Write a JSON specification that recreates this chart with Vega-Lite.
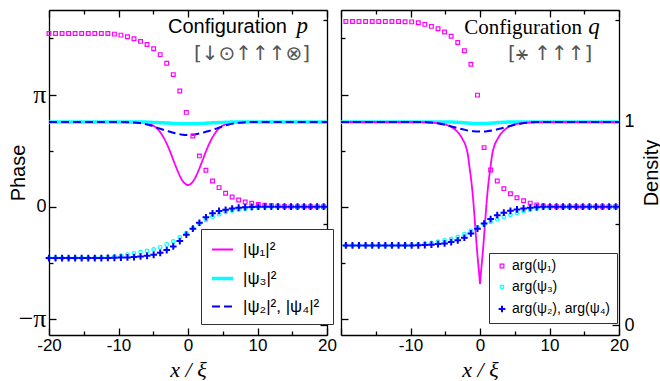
{
  "$schema": "https://vega.github.io/schema/vega-lite/v6.json",
  "padding": {"left": 8, "top": 9, "right": 0, "bottom": 0},
  "bounds": "flush",
  "spacing": 14,
  "config": {
    "view": {"stroke": null},
    "axis": {
      "grid": false,
      "domainColor": "black",
      "domainWidth": 1.3,
      "tickColor": "black",
      "tickWidth": 1.3,
      "labelFont": "Liberation Sans",
      "labelFontSize": 18,
      "labelColor": "black",
      "labelOverlap": false,
      "labelFlush": false,
      "labelBound": false,
      "titleColor": "black",
      "titleFontWeight": "normal"
    },
    "legend": {"symbolOpacity": 1}
  },
  "datasets": {
    "densP": [
      {"x": -20, "d": 1, "curve": "|ψ₁|²"}, {"x": -10, "d": 1, "curve": "|ψ₁|²"}, {"x": -8, "d": 0.999, "curve": "|ψ₁|²"},
      {"x": -7, "d": 0.998, "curve": "|ψ₁|²"}, {"x": -6, "d": 0.995, "curve": "|ψ₁|²"}, {"x": -5.5, "d": 0.99, "curve": "|ψ₁|²"},
      {"x": -5, "d": 0.982, "curve": "|ψ₁|²"}, {"x": -4.5, "d": 0.969, "curve": "|ψ₁|²"}, {"x": -4, "d": 0.95, "curve": "|ψ₁|²"},
      {"x": -3.5, "d": 0.923, "curve": "|ψ₁|²"}, {"x": -3, "d": 0.889, "curve": "|ψ₁|²"}, {"x": -2.5, "d": 0.848, "curve": "|ψ₁|²"},
      {"x": -2, "d": 0.803, "curve": "|ψ₁|²"}, {"x": -1.5, "d": 0.76, "curve": "|ψ₁|²"}, {"x": -1, "d": 0.723, "curve": "|ψ₁|²"},
      {"x": -0.5, "d": 0.699, "curve": "|ψ₁|²"}, {"x": 0, "d": 0.69, "curve": "|ψ₁|²"}, {"x": 0.5, "d": 0.699, "curve": "|ψ₁|²"},
      {"x": 1, "d": 0.723, "curve": "|ψ₁|²"}, {"x": 1.5, "d": 0.76, "curve": "|ψ₁|²"}, {"x": 2, "d": 0.803, "curve": "|ψ₁|²"},
      {"x": 2.5, "d": 0.848, "curve": "|ψ₁|²"}, {"x": 3, "d": 0.889, "curve": "|ψ₁|²"}, {"x": 3.5, "d": 0.923, "curve": "|ψ₁|²"},
      {"x": 4, "d": 0.95, "curve": "|ψ₁|²"}, {"x": 4.5, "d": 0.969, "curve": "|ψ₁|²"}, {"x": 5, "d": 0.982, "curve": "|ψ₁|²"},
      {"x": 5.5, "d": 0.99, "curve": "|ψ₁|²"}, {"x": 6, "d": 0.995, "curve": "|ψ₁|²"}, {"x": 7, "d": 0.998, "curve": "|ψ₁|²"},
      {"x": 8, "d": 0.999, "curve": "|ψ₁|²"}, {"x": 10, "d": 1, "curve": "|ψ₁|²"}, {"x": 20, "d": 1, "curve": "|ψ₁|²"},
      {"x": -20, "d": 1, "curve": "|ψ₃|²"}, {"x": -7, "d": 1, "curve": "|ψ₃|²"}, {"x": -5, "d": 0.998, "curve": "|ψ₃|²"},
      {"x": -3, "d": 0.995, "curve": "|ψ₃|²"}, {"x": -1.5, "d": 0.992, "curve": "|ψ₃|²"}, {"x": 0, "d": 0.991, "curve": "|ψ₃|²"},
      {"x": 1.5, "d": 0.992, "curve": "|ψ₃|²"}, {"x": 3, "d": 0.995, "curve": "|ψ₃|²"}, {"x": 5, "d": 0.998, "curve": "|ψ₃|²"},
      {"x": 7, "d": 1, "curve": "|ψ₃|²"}, {"x": 20, "d": 1, "curve": "|ψ₃|²"},
      {"x": -20, "d": 1, "curve": "|ψ₂|²,  |ψ₄|²"}, {"x": -10, "d": 1, "curve": "|ψ₂|²,  |ψ₄|²"}, {"x": -8, "d": 0.998, "curve": "|ψ₂|²,  |ψ₄|²"},
      {"x": -7, "d": 0.995, "curve": "|ψ₂|²,  |ψ₄|²"}, {"x": -6, "d": 0.989, "curve": "|ψ₂|²,  |ψ₄|²"}, {"x": -5, "d": 0.979, "curve": "|ψ₂|²,  |ψ₄|²"},
      {"x": -4, "d": 0.967, "curve": "|ψ₂|²,  |ψ₄|²"}, {"x": -3, "d": 0.956, "curve": "|ψ₂|²,  |ψ₄|²"}, {"x": -2, "d": 0.946, "curve": "|ψ₂|²,  |ψ₄|²"},
      {"x": -1, "d": 0.939, "curve": "|ψ₂|²,  |ψ₄|²"}, {"x": 0, "d": 0.936, "curve": "|ψ₂|²,  |ψ₄|²"}, {"x": 1, "d": 0.939, "curve": "|ψ₂|²,  |ψ₄|²"},
      {"x": 2, "d": 0.946, "curve": "|ψ₂|²,  |ψ₄|²"}, {"x": 3, "d": 0.956, "curve": "|ψ₂|²,  |ψ₄|²"}, {"x": 4, "d": 0.967, "curve": "|ψ₂|²,  |ψ₄|²"},
      {"x": 5, "d": 0.979, "curve": "|ψ₂|²,  |ψ₄|²"}, {"x": 6, "d": 0.989, "curve": "|ψ₂|²,  |ψ₄|²"}, {"x": 7, "d": 0.995, "curve": "|ψ₂|²,  |ψ₄|²"},
      {"x": 8, "d": 0.998, "curve": "|ψ₂|²,  |ψ₄|²"}, {"x": 10, "d": 1, "curve": "|ψ₂|²,  |ψ₄|²"}, {"x": 20, "d": 1, "curve": "|ψ₂|²,  |ψ₄|²"}
    ],
    "densQ": [
      {"x": -20, "d": 1, "curve": "|ψ₃|²"}, {"x": -5, "d": 1, "curve": "|ψ₃|²"}, {"x": -3, "d": 0.998, "curve": "|ψ₃|²"},
      {"x": -1.5, "d": 0.994, "curve": "|ψ₃|²"}, {"x": 0, "d": 0.992, "curve": "|ψ₃|²"}, {"x": 1.5, "d": 0.994, "curve": "|ψ₃|²"},
      {"x": 3, "d": 0.998, "curve": "|ψ₃|²"}, {"x": 5, "d": 1, "curve": "|ψ₃|²"}, {"x": 20, "d": 1, "curve": "|ψ₃|²"},
      {"x": -20, "d": 1, "curve": "|ψ₁|²"}, {"x": -10, "d": 1, "curve": "|ψ₁|²"}, {"x": -8, "d": 0.999, "curve": "|ψ₁|²"},
      {"x": -7, "d": 0.997, "curve": "|ψ₁|²"}, {"x": -6, "d": 0.994, "curve": "|ψ₁|²"}, {"x": -5, "d": 0.988, "curve": "|ψ₁|²"},
      {"x": -4.5, "d": 0.982, "curve": "|ψ₁|²"}, {"x": -4, "d": 0.973, "curve": "|ψ₁|²"}, {"x": -3.5, "d": 0.96, "curve": "|ψ₁|²"},
      {"x": -3, "d": 0.942, "curve": "|ψ₁|²"}, {"x": -2.5, "d": 0.915, "curve": "|ψ₁|²"}, {"x": -2, "d": 0.876, "curve": "|ψ₁|²"},
      {"x": -1.75, "d": 0.84, "curve": "|ψ₁|²"}, {"x": -1.5, "d": 0.775, "curve": "|ψ₁|²"}, {"x": -1.25, "d": 0.71, "curve": "|ψ₁|²"},
      {"x": -1, "d": 0.625, "curve": "|ψ₁|²"}, {"x": -0.75, "d": 0.515, "curve": "|ψ₁|²"}, {"x": -0.5, "d": 0.4, "curve": "|ψ₁|²"},
      {"x": -0.25, "d": 0.3, "curve": "|ψ₁|²"}, {"x": -0.1, "d": 0.245, "curve": "|ψ₁|²"}, {"x": 0, "d": 0.205, "curve": "|ψ₁|²"},
      {"x": 0.1, "d": 0.245, "curve": "|ψ₁|²"}, {"x": 0.25, "d": 0.3, "curve": "|ψ₁|²"}, {"x": 0.5, "d": 0.4, "curve": "|ψ₁|²"},
      {"x": 0.75, "d": 0.515, "curve": "|ψ₁|²"}, {"x": 1, "d": 0.625, "curve": "|ψ₁|²"}, {"x": 1.25, "d": 0.71, "curve": "|ψ₁|²"},
      {"x": 1.5, "d": 0.775, "curve": "|ψ₁|²"}, {"x": 1.75, "d": 0.84, "curve": "|ψ₁|²"}, {"x": 2, "d": 0.876, "curve": "|ψ₁|²"},
      {"x": 2.5, "d": 0.915, "curve": "|ψ₁|²"}, {"x": 3, "d": 0.942, "curve": "|ψ₁|²"}, {"x": 3.5, "d": 0.96, "curve": "|ψ₁|²"},
      {"x": 4, "d": 0.973, "curve": "|ψ₁|²"}, {"x": 4.5, "d": 0.982, "curve": "|ψ₁|²"}, {"x": 5, "d": 0.988, "curve": "|ψ₁|²"},
      {"x": 6, "d": 0.994, "curve": "|ψ₁|²"}, {"x": 7, "d": 0.997, "curve": "|ψ₁|²"}, {"x": 8, "d": 0.999, "curve": "|ψ₁|²"},
      {"x": 10, "d": 1, "curve": "|ψ₁|²"}, {"x": 20, "d": 1, "curve": "|ψ₁|²"},
      {"x": -20, "d": 1, "curve": "|ψ₂|²,  |ψ₄|²"}, {"x": -8, "d": 1, "curve": "|ψ₂|²,  |ψ₄|²"}, {"x": -7, "d": 0.997, "curve": "|ψ₂|²,  |ψ₄|²"},
      {"x": -6, "d": 0.993, "curve": "|ψ₂|²,  |ψ₄|²"}, {"x": -5, "d": 0.986, "curve": "|ψ₂|²,  |ψ₄|²"}, {"x": -4, "d": 0.977, "curve": "|ψ₂|²,  |ψ₄|²"},
      {"x": -3, "d": 0.968, "curve": "|ψ₂|²,  |ψ₄|²"}, {"x": -2, "d": 0.96, "curve": "|ψ₂|²,  |ψ₄|²"}, {"x": -1, "d": 0.955, "curve": "|ψ₂|²,  |ψ₄|²"},
      {"x": 0, "d": 0.953, "curve": "|ψ₂|²,  |ψ₄|²"}, {"x": 1, "d": 0.955, "curve": "|ψ₂|²,  |ψ₄|²"}, {"x": 2, "d": 0.96, "curve": "|ψ₂|²,  |ψ₄|²"},
      {"x": 3, "d": 0.968, "curve": "|ψ₂|²,  |ψ₄|²"}, {"x": 4, "d": 0.977, "curve": "|ψ₂|²,  |ψ₄|²"}, {"x": 5, "d": 0.986, "curve": "|ψ₂|²,  |ψ₄|²"},
      {"x": 6, "d": 0.993, "curve": "|ψ₂|²,  |ψ₄|²"}, {"x": 7, "d": 0.997, "curve": "|ψ₂|²,  |ψ₄|²"}, {"x": 8, "d": 1, "curve": "|ψ₂|²,  |ψ₄|²"},
      {"x": 20, "d": 1, "curve": "|ψ₂|²,  |ψ₄|²"}
    ],
    "phaseP": [
      {"x": -20, "phase": 1.545, "s": "arg(ψ₁)"}, {"x": -19.06, "phase": 1.545, "s": "arg(ψ₁)"}, {"x": -18.12, "phase": 1.545, "s": "arg(ψ₁)"},
      {"x": -17.18, "phase": 1.545, "s": "arg(ψ₁)"}, {"x": -16.24, "phase": 1.545, "s": "arg(ψ₁)"}, {"x": -15.3, "phase": 1.545, "s": "arg(ψ₁)"},
      {"x": -14.35, "phase": 1.545, "s": "arg(ψ₁)"}, {"x": -13.41, "phase": 1.545, "s": "arg(ψ₁)"}, {"x": -12.47, "phase": 1.545, "s": "arg(ψ₁)"},
      {"x": -11.53, "phase": 1.544, "s": "arg(ψ₁)"}, {"x": -10.59, "phase": 1.539, "s": "arg(ψ₁)"}, {"x": -9.65, "phase": 1.53, "s": "arg(ψ₁)"},
      {"x": -8.71, "phase": 1.515, "s": "arg(ψ₁)"}, {"x": -7.77, "phase": 1.497, "s": "arg(ψ₁)"}, {"x": -6.83, "phase": 1.474, "s": "arg(ψ₁)"},
      {"x": -5.89, "phase": 1.446, "s": "arg(ψ₁)"}, {"x": -4.94, "phase": 1.408, "s": "arg(ψ₁)"}, {"x": -4, "phase": 1.356, "s": "arg(ψ₁)"},
      {"x": -3.06, "phase": 1.28, "s": "arg(ψ₁)"}, {"x": -2.12, "phase": 1.178, "s": "arg(ψ₁)"}, {"x": -1.18, "phase": 1.031, "s": "arg(ψ₁)"},
      {"x": -0.24, "phase": 0.841, "s": "arg(ψ₁)"}, {"x": 0.7, "phase": 0.631, "s": "arg(ψ₁)"}, {"x": 1.64, "phase": 0.453, "s": "arg(ψ₁)"},
      {"x": 2.58, "phase": 0.325, "s": "arg(ψ₁)"}, {"x": 3.53, "phase": 0.229, "s": "arg(ψ₁)"}, {"x": 4.47, "phase": 0.17, "s": "arg(ψ₁)"},
      {"x": 5.41, "phase": 0.12, "s": "arg(ψ₁)"}, {"x": 6.35, "phase": 0.087, "s": "arg(ψ₁)"}, {"x": 7.29, "phase": 0.06, "s": "arg(ψ₁)"},
      {"x": 8.23, "phase": 0.042, "s": "arg(ψ₁)"}, {"x": 9.17, "phase": 0.03, "s": "arg(ψ₁)"}, {"x": 10.11, "phase": 0.021, "s": "arg(ψ₁)"},
      {"x": 11.05, "phase": 0.014, "s": "arg(ψ₁)"}, {"x": 11.99, "phase": 0.009, "s": "arg(ψ₁)"}, {"x": 12.94, "phase": 0.005, "s": "arg(ψ₁)"},
      {"x": 13.88, "phase": 0.003, "s": "arg(ψ₁)"}, {"x": 14.82, "phase": 0, "s": "arg(ψ₁)"}, {"x": 15.76, "phase": 0, "s": "arg(ψ₁)"},
      {"x": 16.7, "phase": 0, "s": "arg(ψ₁)"}, {"x": 17.64, "phase": 0, "s": "arg(ψ₁)"}, {"x": 18.58, "phase": 0, "s": "arg(ψ₁)"},
      {"x": 19.52, "phase": 0, "s": "arg(ψ₁)"},
      {"x": -20, "phase": -0.458, "s": "arg(ψ₃)"}, {"x": -19.06, "phase": -0.458, "s": "arg(ψ₃)"}, {"x": -18.12, "phase": -0.458, "s": "arg(ψ₃)"},
      {"x": -17.18, "phase": -0.458, "s": "arg(ψ₃)"}, {"x": -16.24, "phase": -0.458, "s": "arg(ψ₃)"}, {"x": -15.3, "phase": -0.458, "s": "arg(ψ₃)"},
      {"x": -14.35, "phase": -0.457, "s": "arg(ψ₃)"}, {"x": -13.41, "phase": -0.456, "s": "arg(ψ₃)"}, {"x": -12.47, "phase": -0.454, "s": "arg(ψ₃)"},
      {"x": -11.53, "phase": -0.45, "s": "arg(ψ₃)"}, {"x": -10.59, "phase": -0.445, "s": "arg(ψ₃)"}, {"x": -9.65, "phase": -0.436, "s": "arg(ψ₃)"},
      {"x": -8.71, "phase": -0.427, "s": "arg(ψ₃)"}, {"x": -7.77, "phase": -0.417, "s": "arg(ψ₃)"}, {"x": -6.83, "phase": -0.405, "s": "arg(ψ₃)"},
      {"x": -5.89, "phase": -0.395, "s": "arg(ψ₃)"}, {"x": -4.94, "phase": -0.381, "s": "arg(ψ₃)"}, {"x": -4, "phase": -0.362, "s": "arg(ψ₃)"},
      {"x": -3.06, "phase": -0.337, "s": "arg(ψ₃)"}, {"x": -2.12, "phase": -0.309, "s": "arg(ψ₃)"}, {"x": -1.18, "phase": -0.273, "s": "arg(ψ₃)"},
      {"x": -0.24, "phase": -0.236, "s": "arg(ψ₃)"}, {"x": 0.7, "phase": -0.192, "s": "arg(ψ₃)"}, {"x": 1.64, "phase": -0.155, "s": "arg(ψ₃)"},
      {"x": 2.58, "phase": -0.119, "s": "arg(ψ₃)"}, {"x": 3.53, "phase": -0.089, "s": "arg(ψ₃)"}, {"x": 4.47, "phase": -0.068, "s": "arg(ψ₃)"},
      {"x": 5.41, "phase": -0.048, "s": "arg(ψ₃)"}, {"x": 6.35, "phase": -0.034, "s": "arg(ψ₃)"}, {"x": 7.29, "phase": -0.025, "s": "arg(ψ₃)"},
      {"x": 8.23, "phase": -0.018, "s": "arg(ψ₃)"}, {"x": 9.17, "phase": -0.012, "s": "arg(ψ₃)"}, {"x": 10.11, "phase": -0.007, "s": "arg(ψ₃)"},
      {"x": 11.05, "phase": -0.003, "s": "arg(ψ₃)"}, {"x": 11.99, "phase": 0, "s": "arg(ψ₃)"}, {"x": 12.94, "phase": 0, "s": "arg(ψ₃)"},
      {"x": 13.88, "phase": 0, "s": "arg(ψ₃)"}, {"x": 14.82, "phase": 0, "s": "arg(ψ₃)"}, {"x": 15.76, "phase": 0, "s": "arg(ψ₃)"},
      {"x": 16.7, "phase": 0, "s": "arg(ψ₃)"}, {"x": 17.64, "phase": 0, "s": "arg(ψ₃)"}, {"x": 18.58, "phase": 0, "s": "arg(ψ₃)"},
      {"x": 19.52, "phase": 0, "s": "arg(ψ₃)"},
      {"x": -20, "phase": -0.458, "s": "arg(ψ₂), arg(ψ₄)"}, {"x": -19.06, "phase": -0.458, "s": "arg(ψ₂), arg(ψ₄)"}, {"x": -18.12, "phase": -0.458, "s": "arg(ψ₂), arg(ψ₄)"},
      {"x": -17.18, "phase": -0.458, "s": "arg(ψ₂), arg(ψ₄)"}, {"x": -16.24, "phase": -0.458, "s": "arg(ψ₂), arg(ψ₄)"}, {"x": -15.3, "phase": -0.458, "s": "arg(ψ₂), arg(ψ₄)"},
      {"x": -14.35, "phase": -0.458, "s": "arg(ψ₂), arg(ψ₄)"}, {"x": -13.41, "phase": -0.458, "s": "arg(ψ₂), arg(ψ₄)"}, {"x": -12.47, "phase": -0.458, "s": "arg(ψ₂), arg(ψ₄)"},
      {"x": -11.53, "phase": -0.457, "s": "arg(ψ₂), arg(ψ₄)"}, {"x": -10.59, "phase": -0.456, "s": "arg(ψ₂), arg(ψ₄)"}, {"x": -9.65, "phase": -0.454, "s": "arg(ψ₂), arg(ψ₄)"},
      {"x": -8.71, "phase": -0.452, "s": "arg(ψ₂), arg(ψ₄)"}, {"x": -7.77, "phase": -0.449, "s": "arg(ψ₂), arg(ψ₄)"}, {"x": -6.83, "phase": -0.444, "s": "arg(ψ₂), arg(ψ₄)"},
      {"x": -5.89, "phase": -0.438, "s": "arg(ψ₂), arg(ψ₄)"}, {"x": -4.94, "phase": -0.429, "s": "arg(ψ₂), arg(ψ₄)"}, {"x": -4, "phase": -0.411, "s": "arg(ψ₂), arg(ψ₄)"},
      {"x": -3.06, "phase": -0.387, "s": "arg(ψ₂), arg(ψ₄)"}, {"x": -2.12, "phase": -0.354, "s": "arg(ψ₂), arg(ψ₄)"}, {"x": -1.18, "phase": -0.306, "s": "arg(ψ₂), arg(ψ₄)"},
      {"x": -0.24, "phase": -0.25, "s": "arg(ψ₂), arg(ψ₄)"}, {"x": 0.7, "phase": -0.196, "s": "arg(ψ₂), arg(ψ₄)"}, {"x": 1.64, "phase": -0.143, "s": "arg(ψ₂), arg(ψ₄)"},
      {"x": 2.58, "phase": -0.094, "s": "arg(ψ₂), arg(ψ₄)"}, {"x": 3.53, "phase": -0.059, "s": "arg(ψ₂), arg(ψ₄)"}, {"x": 4.47, "phase": -0.038, "s": "arg(ψ₂), arg(ψ₄)"},
      {"x": 5.41, "phase": -0.027, "s": "arg(ψ₂), arg(ψ₄)"}, {"x": 6.35, "phase": -0.016, "s": "arg(ψ₂), arg(ψ₄)"}, {"x": 7.29, "phase": -0.009, "s": "arg(ψ₂), arg(ψ₄)"},
      {"x": 8.23, "phase": -0.005, "s": "arg(ψ₂), arg(ψ₄)"}, {"x": 9.17, "phase": -0.002, "s": "arg(ψ₂), arg(ψ₄)"}, {"x": 10.11, "phase": 0, "s": "arg(ψ₂), arg(ψ₄)"},
      {"x": 11.05, "phase": 0, "s": "arg(ψ₂), arg(ψ₄)"}, {"x": 11.99, "phase": 0, "s": "arg(ψ₂), arg(ψ₄)"}, {"x": 12.94, "phase": 0, "s": "arg(ψ₂), arg(ψ₄)"},
      {"x": 13.88, "phase": 0, "s": "arg(ψ₂), arg(ψ₄)"}, {"x": 14.82, "phase": 0, "s": "arg(ψ₂), arg(ψ₄)"}, {"x": 15.76, "phase": 0, "s": "arg(ψ₂), arg(ψ₄)"},
      {"x": 16.7, "phase": 0, "s": "arg(ψ₂), arg(ψ₄)"}, {"x": 17.64, "phase": 0, "s": "arg(ψ₂), arg(ψ₄)"}, {"x": 18.58, "phase": 0, "s": "arg(ψ₂), arg(ψ₄)"},
      {"x": 19.52, "phase": 0, "s": "arg(ψ₂), arg(ψ₄)"}
    ],
    "phaseQ": [
      {"x": -19.3, "phase": 1.652, "s": "arg(ψ₁)"}, {"x": -18.35, "phase": 1.652, "s": "arg(ψ₁)"}, {"x": -17.41, "phase": 1.652, "s": "arg(ψ₁)"},
      {"x": -16.46, "phase": 1.652, "s": "arg(ψ₁)"}, {"x": -15.51, "phase": 1.652, "s": "arg(ψ₁)"}, {"x": -14.57, "phase": 1.652, "s": "arg(ψ₁)"},
      {"x": -13.62, "phase": 1.652, "s": "arg(ψ₁)"}, {"x": -12.67, "phase": 1.652, "s": "arg(ψ₁)"}, {"x": -11.72, "phase": 1.651, "s": "arg(ψ₁)"},
      {"x": -10.78, "phase": 1.65, "s": "arg(ψ₁)"}, {"x": -9.83, "phase": 1.648, "s": "arg(ψ₁)"}, {"x": -8.88, "phase": 1.64, "s": "arg(ψ₁)"},
      {"x": -7.94, "phase": 1.626, "s": "arg(ψ₁)"}, {"x": -6.99, "phase": 1.608, "s": "arg(ψ₁)"}, {"x": -6.04, "phase": 1.586, "s": "arg(ψ₁)"},
      {"x": -5.1, "phase": 1.558, "s": "arg(ψ₁)"}, {"x": -4.15, "phase": 1.52, "s": "arg(ψ₁)"}, {"x": -3.2, "phase": 1.464, "s": "arg(ψ₁)"},
      {"x": -2.25, "phase": 1.39, "s": "arg(ψ₁)"}, {"x": -1.31, "phase": 1.271, "s": "arg(ψ₁)"}, {"x": -0.36, "phase": 0.995, "s": "arg(ψ₁)"},
      {"x": 0.59, "phase": 0.527, "s": "arg(ψ₁)"}, {"x": 1.53, "phase": 0.328, "s": "arg(ψ₁)"}, {"x": 2.48, "phase": 0.229, "s": "arg(ψ₁)"},
      {"x": 3.43, "phase": 0.161, "s": "arg(ψ₁)"}, {"x": 4.38, "phase": 0.116, "s": "arg(ψ₁)"}, {"x": 5.32, "phase": 0.08, "s": "arg(ψ₁)"},
      {"x": 6.27, "phase": 0.053, "s": "arg(ψ₁)"}, {"x": 7.22, "phase": 0.032, "s": "arg(ψ₁)"}, {"x": 8.16, "phase": 0.015, "s": "arg(ψ₁)"},
      {"x": 9.11, "phase": 0.006, "s": "arg(ψ₁)"}, {"x": 10.06, "phase": 0, "s": "arg(ψ₁)"}, {"x": 11, "phase": 0, "s": "arg(ψ₁)"},
      {"x": 11.95, "phase": 0, "s": "arg(ψ₁)"}, {"x": 12.9, "phase": 0, "s": "arg(ψ₁)"}, {"x": 13.85, "phase": 0, "s": "arg(ψ₁)"},
      {"x": 14.79, "phase": 0, "s": "arg(ψ₁)"}, {"x": 15.74, "phase": 0, "s": "arg(ψ₁)"}, {"x": 16.69, "phase": 0, "s": "arg(ψ₁)"},
      {"x": 17.63, "phase": 0, "s": "arg(ψ₁)"}, {"x": 18.58, "phase": 0, "s": "arg(ψ₁)"}, {"x": 19.53, "phase": 0, "s": "arg(ψ₁)"},
      {"x": -19.3, "phase": -0.345, "s": "arg(ψ₃)"}, {"x": -18.35, "phase": -0.345, "s": "arg(ψ₃)"}, {"x": -17.41, "phase": -0.345, "s": "arg(ψ₃)"},
      {"x": -16.46, "phase": -0.345, "s": "arg(ψ₃)"}, {"x": -15.51, "phase": -0.345, "s": "arg(ψ₃)"}, {"x": -14.57, "phase": -0.345, "s": "arg(ψ₃)"},
      {"x": -13.62, "phase": -0.345, "s": "arg(ψ₃)"}, {"x": -12.67, "phase": -0.345, "s": "arg(ψ₃)"}, {"x": -11.72, "phase": -0.344, "s": "arg(ψ₃)"},
      {"x": -10.78, "phase": -0.343, "s": "arg(ψ₃)"}, {"x": -9.83, "phase": -0.341, "s": "arg(ψ₃)"}, {"x": -8.88, "phase": -0.338, "s": "arg(ψ₃)"},
      {"x": -7.94, "phase": -0.33, "s": "arg(ψ₃)"}, {"x": -6.99, "phase": -0.322, "s": "arg(ψ₃)"}, {"x": -6.04, "phase": -0.312, "s": "arg(ψ₃)"},
      {"x": -5.1, "phase": -0.3, "s": "arg(ψ₃)"}, {"x": -4.15, "phase": -0.287, "s": "arg(ψ₃)"}, {"x": -3.2, "phase": -0.27, "s": "arg(ψ₃)"},
      {"x": -2.25, "phase": -0.245, "s": "arg(ψ₃)"}, {"x": -1.31, "phase": -0.215, "s": "arg(ψ₃)"}, {"x": -0.36, "phase": -0.185, "s": "arg(ψ₃)"},
      {"x": 0.59, "phase": -0.16, "s": "arg(ψ₃)"}, {"x": 1.53, "phase": -0.135, "s": "arg(ψ₃)"}, {"x": 2.48, "phase": -0.112, "s": "arg(ψ₃)"},
      {"x": 3.43, "phase": -0.09, "s": "arg(ψ₃)"}, {"x": 4.38, "phase": -0.072, "s": "arg(ψ₃)"}, {"x": 5.32, "phase": -0.055, "s": "arg(ψ₃)"},
      {"x": 6.27, "phase": -0.04, "s": "arg(ψ₃)"}, {"x": 7.22, "phase": -0.027, "s": "arg(ψ₃)"}, {"x": 8.16, "phase": -0.017, "s": "arg(ψ₃)"},
      {"x": 9.11, "phase": -0.01, "s": "arg(ψ₃)"}, {"x": 10.06, "phase": -0.005, "s": "arg(ψ₃)"}, {"x": 11, "phase": 0, "s": "arg(ψ₃)"},
      {"x": 11.95, "phase": 0, "s": "arg(ψ₃)"}, {"x": 12.9, "phase": 0, "s": "arg(ψ₃)"}, {"x": 13.85, "phase": 0, "s": "arg(ψ₃)"},
      {"x": 14.79, "phase": 0, "s": "arg(ψ₃)"}, {"x": 15.74, "phase": 0, "s": "arg(ψ₃)"}, {"x": 16.69, "phase": 0, "s": "arg(ψ₃)"},
      {"x": 17.63, "phase": 0, "s": "arg(ψ₃)"}, {"x": 18.58, "phase": 0, "s": "arg(ψ₃)"}, {"x": 19.53, "phase": 0, "s": "arg(ψ₃)"},
      {"x": -19.3, "phase": -0.345, "s": "arg(ψ₂), arg(ψ₄)"}, {"x": -18.35, "phase": -0.345, "s": "arg(ψ₂), arg(ψ₄)"}, {"x": -17.41, "phase": -0.345, "s": "arg(ψ₂), arg(ψ₄)"},
      {"x": -16.46, "phase": -0.345, "s": "arg(ψ₂), arg(ψ₄)"}, {"x": -15.51, "phase": -0.345, "s": "arg(ψ₂), arg(ψ₄)"}, {"x": -14.57, "phase": -0.345, "s": "arg(ψ₂), arg(ψ₄)"},
      {"x": -13.62, "phase": -0.345, "s": "arg(ψ₂), arg(ψ₄)"}, {"x": -12.67, "phase": -0.345, "s": "arg(ψ₂), arg(ψ₄)"}, {"x": -11.72, "phase": -0.345, "s": "arg(ψ₂), arg(ψ₄)"},
      {"x": -10.78, "phase": -0.345, "s": "arg(ψ₂), arg(ψ₄)"}, {"x": -9.83, "phase": -0.345, "s": "arg(ψ₂), arg(ψ₄)"}, {"x": -8.88, "phase": -0.344, "s": "arg(ψ₂), arg(ψ₄)"},
      {"x": -7.94, "phase": -0.342, "s": "arg(ψ₂), arg(ψ₄)"}, {"x": -6.99, "phase": -0.339, "s": "arg(ψ₂), arg(ψ₄)"}, {"x": -6.04, "phase": -0.333, "s": "arg(ψ₂), arg(ψ₄)"},
      {"x": -5.1, "phase": -0.327, "s": "arg(ψ₂), arg(ψ₄)"}, {"x": -4.15, "phase": -0.315, "s": "arg(ψ₂), arg(ψ₄)"}, {"x": -3.2, "phase": -0.3, "s": "arg(ψ₂), arg(ψ₄)"},
      {"x": -2.25, "phase": -0.277, "s": "arg(ψ₂), arg(ψ₄)"}, {"x": -1.31, "phase": -0.238, "s": "arg(ψ₂), arg(ψ₄)"}, {"x": -0.36, "phase": -0.196, "s": "arg(ψ₂), arg(ψ₄)"},
      {"x": 0.59, "phase": -0.15, "s": "arg(ψ₂), arg(ψ₄)"}, {"x": 1.53, "phase": -0.11, "s": "arg(ψ₂), arg(ψ₄)"}, {"x": 2.48, "phase": -0.076, "s": "arg(ψ₂), arg(ψ₄)"},
      {"x": 3.43, "phase": -0.053, "s": "arg(ψ₂), arg(ψ₄)"}, {"x": 4.38, "phase": -0.037, "s": "arg(ψ₂), arg(ψ₄)"}, {"x": 5.32, "phase": -0.024, "s": "arg(ψ₂), arg(ψ₄)"},
      {"x": 6.27, "phase": -0.015, "s": "arg(ψ₂), arg(ψ₄)"}, {"x": 7.22, "phase": -0.009, "s": "arg(ψ₂), arg(ψ₄)"}, {"x": 8.16, "phase": -0.005, "s": "arg(ψ₂), arg(ψ₄)"},
      {"x": 9.11, "phase": 0, "s": "arg(ψ₂), arg(ψ₄)"}, {"x": 10.06, "phase": 0, "s": "arg(ψ₂), arg(ψ₄)"}, {"x": 11, "phase": 0, "s": "arg(ψ₂), arg(ψ₄)"},
      {"x": 11.95, "phase": 0, "s": "arg(ψ₂), arg(ψ₄)"}, {"x": 12.9, "phase": 0, "s": "arg(ψ₂), arg(ψ₄)"}, {"x": 13.85, "phase": 0, "s": "arg(ψ₂), arg(ψ₄)"},
      {"x": 14.79, "phase": 0, "s": "arg(ψ₂), arg(ψ₄)"}, {"x": 15.74, "phase": 0, "s": "arg(ψ₂), arg(ψ₄)"}, {"x": 16.69, "phase": 0, "s": "arg(ψ₂), arg(ψ₄)"},
      {"x": 17.63, "phase": 0, "s": "arg(ψ₂), arg(ψ₄)"}, {"x": 18.58, "phase": 0, "s": "arg(ψ₂), arg(ψ₄)"}, {"x": 19.53, "phase": 0, "s": "arg(ψ₂), arg(ψ₄)"}
    ]
  },
  "hconcat": [
    {
      "width": 278,
      "height": 325,
      "layer": [
        {
          "data": {"name": "densP"},
          "mark": {"type": "line", "interpolate": "monotone"},
          "encoding": {
            "x": {
              "field": "x", "type": "quantitative",
              "scale": {"domain": [-20, 20], "nice": false, "zero": false},
              "axis": {
                "orient": "bottom",
                "values": [-20, -15, -10, -5, 0, 5, 10, 15, 20],
                "labelExpr": "datum.value % 10 === 0 ? (datum.value < 0 ? '-' : '') + abs(datum.value) : ''",
                "labelFontSize": 17,
                "tickSize": {"condition": {"test": "datum.value % 10 === 0", "value": -7}, "value": -4},
                "labelPadding": 9,
                "title": "x / ξ",
                "titleFont": "Liberation Serif",
                "titleFontStyle": "italic",
                "titleFontSize": 22,
                "titleBaseline": "alphabetic",
                "titleY": 41
              }
            },
            "y": {
              "field": "d", "type": "quantitative",
              "scale": {"domain": [-0.048, 1.551], "nice": false, "zero": false},
              "axis": {
                "orient": "right",
                "values": [0, 0.5, 1, 1.5],
                "labels": false,
                "tickSize": {"condition": {"test": "datum.value % 1 === 0", "value": -7}, "value": -4},
                "title": null
              }
            },
            "color": {
              "field": "curve", "type": "nominal",
              "scale": {"domain": ["|ψ₁|²", "|ψ₃|²", "|ψ₂|²,  |ψ₄|²"], "range": ["#ff00ff", "#00ffff", "#0000ff"]},
              "legend": {
                "orient": "none", "legendX": 152, "legendY": 219, "title": null,
                "strokeColor": "#333333", "fillColor": "white", "padding": 9,
                "labelFont": "Liberation Sans, DejaVu Sans", "labelFontSize": 17, "labelColor": "black",
                "symbolSize": 441, "symbolType": "stroke", "rowPadding": 8, "labelOffset": 8
              }
            },
            "strokeDash": {
              "field": "curve", "type": "nominal",
              "scale": {"domain": ["|ψ₁|²", "|ψ₃|²", "|ψ₂|²,  |ψ₄|²"], "range": [[1, 0], [1, 0], [8, 4]]},
              "legend": {
                "orient": "none", "legendX": 152, "legendY": 219, "title": null,
                "strokeColor": "#333333", "fillColor": "white", "padding": 9,
                "labelFont": "Liberation Sans, DejaVu Sans", "labelFontSize": 17, "labelColor": "black",
                "symbolSize": 441, "symbolType": "stroke", "rowPadding": 8, "labelOffset": 8
              }
            },
            "strokeWidth": {
              "field": "curve", "type": "nominal",
              "scale": {"type": "ordinal", "domain": ["|ψ₁|²", "|ψ₃|²", "|ψ₂|²,  |ψ₄|²"], "range": [1.8, 3.5, 2]},
              "legend": {
                "orient": "none", "legendX": 152, "legendY": 219, "title": null,
                "strokeColor": "#333333", "fillColor": "white", "padding": 9,
                "labelFont": "Liberation Sans, DejaVu Sans", "labelFontSize": 17, "labelColor": "black",
                "symbolSize": 441, "symbolType": "stroke", "rowPadding": 8, "labelOffset": 8
              }
            }
          }
        },
        {
          "data": {"name": "phaseP"},
          "mark": {"type": "point", "filled": false, "opacity": 1},
          "encoding": {
            "x": {
              "field": "x", "type": "quantitative",
              "scale": {"domain": [-20, 20], "nice": false, "zero": false},
              "axis": {
                "orient": "top",
                "values": [-20, -15, -10, -5, 0, 5, 10, 15, 20],
                "labels": false,
                "tickSize": {"condition": {"test": "datum.value % 10 === 0", "value": -7}, "value": -4},
                "title": null
              }
            },
            "y": {
              "field": "phase", "type": "quantitative",
              "scale": {"domain": [-1.144, 1.754], "nice": false, "zero": false},
              "axis": {
                "orient": "left",
                "values": [-1, -0.5, 0, 0.5, 1, 1.5],
                "labelExpr": "datum.value === 1 ? 'π' : datum.value === -1 ? '−π' : datum.value === 0 ? '0' : ''",
                "labelFont": {"condition": {"test": "datum.value === 0", "value": "Liberation Sans"}, "value": "Liberation Serif"},
                "labelFontSize": {"condition": {"test": "datum.value === 0", "value": 18}, "value": 26},
                "tickSize": {"condition": {"test": "datum.value % 1 === 0", "value": -7}, "value": -4},
                "labelPadding": 10,
                "title": "Phase",
                "titleFont": "Liberation Sans",
                "titleFontSize": 20,
                "titleAngle": 270,
                "titleAlign": "center",
                "titleBaseline": "middle",
                "titleX": -31,
                "titleY": 162.5
              }
            },
            "color": {
              "field": "s", "type": "nominal",
              "scale": {"domain": ["arg(ψ₁)", "arg(ψ₃)", "arg(ψ₂), arg(ψ₄)"], "range": ["#ff00ff", "#00ffff", "#0000ff"]},
              "legend": null
            },
            "shape": {
              "field": "s", "type": "nominal",
              "scale": {"domain": ["arg(ψ₁)", "arg(ψ₃)", "arg(ψ₂), arg(ψ₄)"], "range": ["square", "circle", "M-1,0L1,0M0,-1L0,1"]},
              "legend": null
            },
            "size": {
              "field": "s", "type": "nominal",
              "scale": {"type": "ordinal", "domain": ["arg(ψ₁)", "arg(ψ₃)", "arg(ψ₂), arg(ψ₄)"], "range": [14, 13, 45]},
              "legend": null
            },
            "strokeWidth": {
              "field": "s", "type": "nominal",
              "scale": {"type": "ordinal", "domain": ["arg(ψ₁)", "arg(ψ₃)", "arg(ψ₂), arg(ψ₄)"], "range": [1.2, 1.2, 2]},
              "legend": null
            }
          }
        },
        {
          "data": {"values": [{}]},
          "mark": {"type": "text", "text": "Configuration", "font": "Liberation Sans", "fontSize": 20, "align": "right", "baseline": "alphabetic", "color": "black"},
          "encoding": {
            "x": {"datum": 14.24, "type": "quantitative", "scale": {"domain": [-20, 20], "nice": false, "zero": false}, "axis": null},
            "y": {"datum": 1.546, "type": "quantitative", "scale": {"domain": [-1.144, 1.754], "nice": false, "zero": false}, "axis": null}
          }
        },
        {
          "data": {"values": [{}]},
          "mark": {"type": "text", "text": "p", "font": "Liberation Serif", "fontStyle": "italic", "fontSize": 23, "align": "left", "baseline": "alphabetic", "color": "black"},
          "encoding": {
            "x": {"datum": 15.6, "type": "quantitative", "scale": {"domain": [-20, 20], "nice": false, "zero": false}, "axis": null},
            "y": {"datum": 1.546, "type": "quantitative", "scale": {"domain": [-1.144, 1.754], "nice": false, "zero": false}, "axis": null}
          }
        },
        {
          "data": {"values": [{}]},
          "mark": {"type": "text", "text": "[↓⊙↑↑↑⊗]", "font": "DejaVu Sans", "fontSize": 20, "align": "right", "baseline": "alphabetic", "color": "#555555"},
          "encoding": {
            "x": {"datum": 17.56, "type": "quantitative", "scale": {"domain": [-20, 20], "nice": false, "zero": false}, "axis": null},
            "y": {"datum": 1.308, "type": "quantitative", "scale": {"domain": [-1.144, 1.754], "nice": false, "zero": false}, "axis": null}
          }
        }
      ],
      "resolve": {
        "scale": {"y": "independent", "color": "independent", "strokeWidth": "independent", "strokeDash": "independent", "shape": "independent", "size": "independent"},
        "legend": {"color": "independent", "strokeWidth": "independent", "strokeDash": "independent", "shape": "independent", "size": "independent"},
        "axis": {"x": "independent", "y": "independent"}
      }
    },
    {
      "width": 278,
      "height": 325,
      "layer": [
        {
          "data": {"name": "densQ"},
          "mark": {"type": "line", "interpolate": "monotone"},
          "encoding": {
            "x": {
              "field": "x", "type": "quantitative",
              "scale": {"domain": [-20, 20], "nice": false, "zero": false},
              "axis": {
                "orient": "bottom",
                "values": [-20, -15, -10, -5, 0, 5, 10, 15, 20],
                "labelExpr": "datum.value % 10 === 0 && datum.value > -20 ? (datum.value < 0 ? '-' : '') + abs(datum.value) : ''",
                "labelFontSize": 17,
                "tickSize": {"condition": {"test": "datum.value % 10 === 0", "value": -7}, "value": -4},
                "labelPadding": 9,
                "title": "x / ξ",
                "titleFont": "Liberation Serif",
                "titleFontStyle": "italic",
                "titleFontSize": 22,
                "titleBaseline": "alphabetic",
                "titleY": 41
              }
            },
            "y": {
              "field": "d", "type": "quantitative",
              "scale": {"domain": [-0.048, 1.551], "nice": false, "zero": false},
              "axis": {
                "orient": "right",
                "values": [0, 0.5, 1, 1.5],
                "labelExpr": "datum.value === 1 ? '1' : datum.value === 0 ? '0' : ''",
                "tickSize": {"condition": {"test": "datum.value % 1 === 0", "value": -7}, "value": -4},
                "labelPadding": 12,
                "title": "Density",
                "titleFont": "Liberation Sans",
                "titleFontSize": 20,
                "titleAngle": 270,
                "titleAlign": "center",
                "titleBaseline": "middle",
                "titleX": 32,
                "titleY": 162.5
              }
            },
            "color": {
              "field": "curve", "type": "nominal",
              "scale": {"domain": ["|ψ₁|²", "|ψ₃|²", "|ψ₂|²,  |ψ₄|²"], "range": ["#ff00ff", "#00ffff", "#0000ff"]},
              "legend": null
            },
            "strokeDash": {
              "field": "curve", "type": "nominal",
              "scale": {"domain": ["|ψ₁|²", "|ψ₃|²", "|ψ₂|²,  |ψ₄|²"], "range": [[1, 0], [1, 0], [8, 4]]},
              "legend": null
            },
            "strokeWidth": {
              "field": "curve", "type": "nominal",
              "scale": {"type": "ordinal", "domain": ["|ψ₁|²", "|ψ₃|²", "|ψ₂|²,  |ψ₄|²"], "range": [1.8, 3.5, 2]},
              "legend": null
            }
          }
        },
        {
          "data": {"name": "phaseQ"},
          "mark": {"type": "point", "filled": false, "opacity": 1},
          "encoding": {
            "x": {
              "field": "x", "type": "quantitative",
              "scale": {"domain": [-20, 20], "nice": false, "zero": false},
              "axis": {
                "orient": "top",
                "values": [-20, -15, -10, -5, 0, 5, 10, 15, 20],
                "labels": false,
                "tickSize": {"condition": {"test": "datum.value % 10 === 0", "value": -7}, "value": -4},
                "title": null
              }
            },
            "y": {
              "field": "phase", "type": "quantitative",
              "scale": {"domain": [-1.144, 1.754], "nice": false, "zero": false},
              "axis": {
                "orient": "left",
                "values": [-1, -0.5, 0, 0.5, 1, 1.5],
                "labels": false,
                "tickSize": {"condition": {"test": "datum.value % 1 === 0", "value": -7}, "value": -4},
                "title": null
              }
            },
            "color": {
              "field": "s", "type": "nominal",
              "scale": {"domain": ["arg(ψ₁)", "arg(ψ₃)", "arg(ψ₂), arg(ψ₄)"], "range": ["#ff00ff", "#00ffff", "#0000ff"]},
              "legend": {
                "orient": "none", "legendX": 148, "legendY": 243, "title": null,
                "strokeColor": "#333333", "fillColor": "white", "padding": 6,
                "labelFont": "Liberation Sans, DejaVu Sans", "labelFontSize": 14, "labelColor": "black",
                "rowPadding": 7, "labelOffset": 3
              }
            },
            "shape": {
              "field": "s", "type": "nominal",
              "scale": {"domain": ["arg(ψ₁)", "arg(ψ₃)", "arg(ψ₂), arg(ψ₄)"], "range": ["square", "circle", "M-1,0L1,0M0,-1L0,1"]},
              "legend": {
                "orient": "none", "legendX": 148, "legendY": 243, "title": null,
                "strokeColor": "#333333", "fillColor": "white", "padding": 6,
                "labelFont": "Liberation Sans, DejaVu Sans", "labelFontSize": 14, "labelColor": "black",
                "rowPadding": 7, "labelOffset": 3
              }
            },
            "size": {
              "field": "s", "type": "nominal",
              "scale": {"type": "ordinal", "domain": ["arg(ψ₁)", "arg(ψ₃)", "arg(ψ₂), arg(ψ₄)"], "range": [14, 13, 45]},
              "legend": {
                "orient": "none", "legendX": 148, "legendY": 243, "title": null,
                "strokeColor": "#333333", "fillColor": "white", "padding": 6,
                "labelFont": "Liberation Sans, DejaVu Sans", "labelFontSize": 14, "labelColor": "black",
                "rowPadding": 7, "labelOffset": 3
              }
            },
            "strokeWidth": {
              "field": "s", "type": "nominal",
              "scale": {"type": "ordinal", "domain": ["arg(ψ₁)", "arg(ψ₃)", "arg(ψ₂), arg(ψ₄)"], "range": [1.2, 1.2, 2]},
              "legend": {
                "orient": "none", "legendX": 148, "legendY": 243, "title": null,
                "strokeColor": "#333333", "fillColor": "white", "padding": 6,
                "labelFont": "Liberation Sans, DejaVu Sans", "labelFontSize": 14, "labelColor": "black",
                "rowPadding": 7, "labelOffset": 3
              }
            }
          }
        },
        {
          "data": {"values": [{}]},
          "mark": {"type": "text", "text": "Configuration", "font": "Liberation Serif", "fontSize": 21, "align": "right", "baseline": "alphabetic", "color": "black"},
          "encoding": {
            "x": {"datum": 14.68, "type": "quantitative", "scale": {"domain": [-20, 20], "nice": false, "zero": false}, "axis": null},
            "y": {"datum": 1.537, "type": "quantitative", "scale": {"domain": [-1.144, 1.754], "nice": false, "zero": false}, "axis": null}
          }
        },
        {
          "data": {"values": [{}]},
          "mark": {"type": "text", "text": "q", "font": "Liberation Serif", "fontStyle": "italic", "fontSize": 23, "align": "left", "baseline": "alphabetic", "color": "black"},
          "encoding": {
            "x": {"datum": 15.58, "type": "quantitative", "scale": {"domain": [-20, 20], "nice": false, "zero": false}, "axis": null},
            "y": {"datum": 1.537, "type": "quantitative", "scale": {"domain": [-1.144, 1.754], "nice": false, "zero": false}, "axis": null}
          }
        },
        {
          "data": {"values": [{}]},
          "mark": {"type": "text", "text": "[⚹ ↑↑↑]", "font": "DejaVu Sans", "fontSize": 20, "align": "right", "baseline": "alphabetic", "color": "#555555"},
          "encoding": {
            "x": {"datum": 16.16, "type": "quantitative", "scale": {"domain": [-20, 20], "nice": false, "zero": false}, "axis": null},
            "y": {"datum": 1.308, "type": "quantitative", "scale": {"domain": [-1.144, 1.754], "nice": false, "zero": false}, "axis": null}
          }
        }
      ],
      "resolve": {
        "scale": {"y": "independent", "color": "independent", "strokeWidth": "independent", "strokeDash": "independent", "shape": "independent", "size": "independent"},
        "legend": {"color": "independent", "strokeWidth": "independent", "strokeDash": "independent", "shape": "independent", "size": "independent"},
        "axis": {"x": "independent", "y": "independent"}
      }
    }
  ],
  "resolve": {
    "scale": {
      "x": "independent", "y": "independent", "color": "independent", "shape": "independent",
      "size": "independent", "strokeDash": "independent", "strokeWidth": "independent"
    }
  }
}
